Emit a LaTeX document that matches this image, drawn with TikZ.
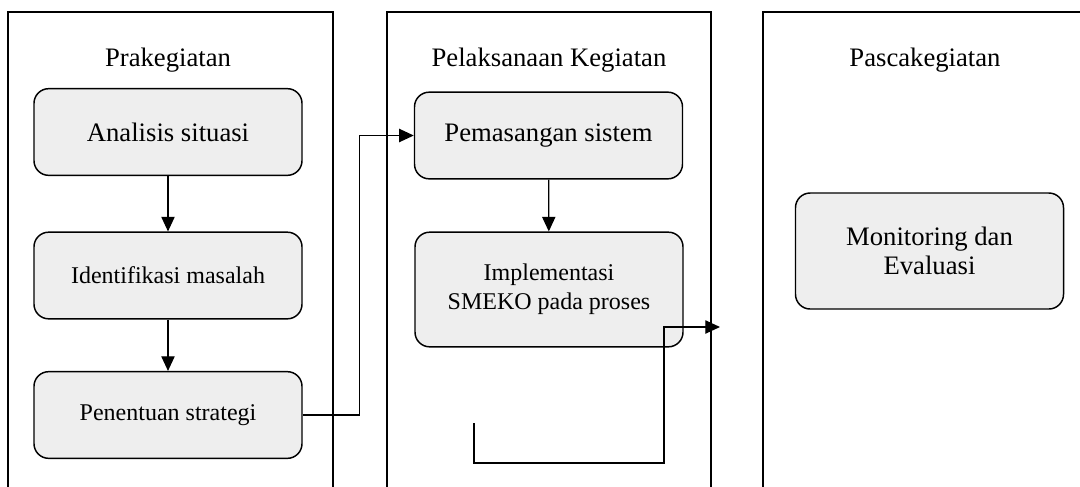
\documentclass[tikz,border=0pt]{standalone}
\usepackage{fontspec}
\setmainfont{Liberation Serif}
\usetikzlibrary{arrows.meta}
\begin{document}
\begin{tikzpicture}[x=0.75pt,y=-0.75pt,
    panel/.style={draw, line width=1.1pt},
    judul/.style={anchor=base, font=\fontsize{20}{22}\selectfont},
    kotak/.style={draw, line width=1.1pt, fill=gray!13, rounded corners=11pt,
      minimum width=201pt, minimum height=65pt, inner sep=0pt, align=center,
      font=\fontsize{20}{20.5}\selectfont},
    kecil/.style={font=\fontsize{18}{21}\selectfont},
    panah/.style={line width=0.9pt, -{Triangle[length=11pt,width=10pt]}}]
        \clip (0,0) rectangle (1080,486);
        \useasboundingbox (0,0) rectangle (1080,486);
        % three stages
        \draw [panel] (8,12) rectangle (333,520);
        \draw [panel] (387,12) rectangle (711,520);
        \draw [panel] (763,12) rectangle (1110,520);
        \node [judul] (judulPra) at (168,66) {Prakegiatan};
        \node [judul] (judulPel) at (549,66) {Pelaksanaan Kegiatan};
        \node [judul] (judulPas) at (925,66) {Pascakegiatan};
        % boxes
        \node [kotak] (analisis) at (168,132) {Analisis situasi};
        \node [kotak, kecil] (identifikasi) at (168,275.5) {Identifikasi masalah};
        \node [kotak, kecil] (penentuan) at (168,415) {\raisebox{2pt}{Penentuan strategi}};
        \node [kotak] (pemasangan) at (548.5,135.5) {Pemasangan sistem};
        \node [kotak, kecil, minimum height=86pt] (implementasi) at (549,289.5)
          {Implementasi\\[1pt]SMEKO pada proses};
        \node [kotak, minimum height=87pt] (monitoring) at (929.5,251)
          {Monitoring dan\\[1pt]Evaluasi};
        % connectors
        \coordinate (lepas) at (474,423);
        \coordinate (belok) at (664,463);
        \coordinate (ujung) at (720,327);
        \draw [panah] (analisis) -- (identifikasi);
        \draw [panah] (identifikasi) -- (penentuan);
        \draw [panah] (penentuan.east) -- ++(57,0) |- (pemasangan.west);
        \draw [panah] (pemasangan) -- (implementasi);
        \draw [panah] (lepas) |- (belok) |- (ujung);
      \end{tikzpicture}
\end{document}
